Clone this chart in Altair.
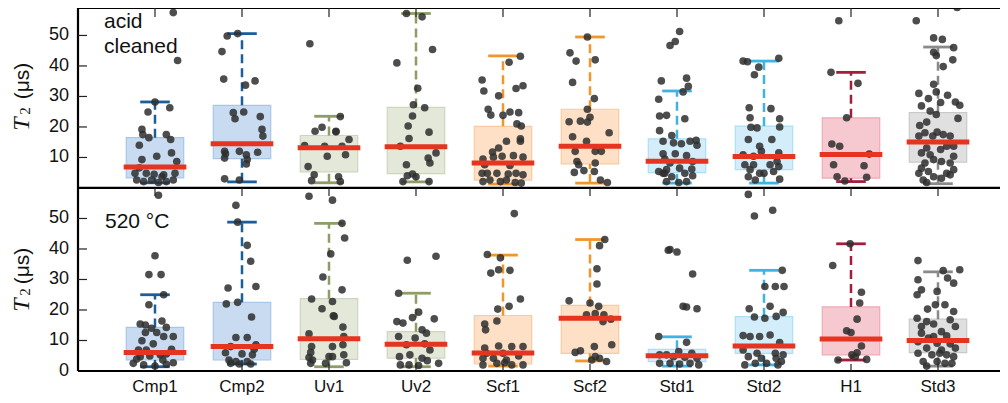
import altair as alt
import pandas as pd

CATS = ["Cmp1", "Cmp2", "Uv1", "Uv2", "Scf1", "Scf2", "Std1", "Std2", "H1", "Std3"]

WHISKER_COLORS = ["#1b5e9c", "#1b5e9c", "#8d9d66", "#8d9d66", "#f1962a", "#f1962a",
                  "#3fb3e4", "#3fb3e4", "#a31e3d", "#8a8a8a"]
FILL_COLORS = ["#c8dbf0", "#c8dbf0", "#e4e8d8", "#e4e8d8", "#fde0c6", "#fde0c6",
               "#d3eefa", "#d3eefa", "#f6c9d1", "#e0e0e0"]
EDGE_COLORS = ["#a9c6e7", "#a9c6e7", "#cdd5bf", "#cdd5bf", "#fbcaa0", "#fbcaa0",
               "#abdff5", "#abdff5", "#eeaab6", "#c9c9c9"]

# ---- box statistics (T2 in microseconds) ----
TOP_Q1 = [3.3, 9.6, 5.3, 4.7, 2.6, 7.9, 5.0, 6.0, 3.2, 8.5]
TOP_MED = [6.9, 14.5, 13.2, 13.5, 8.2, 13.7, 8.8, 10.3, 11.0, 15.1]
TOP_Q3 = [16.5, 27.1, 17.2, 26.4, 20.2, 25.8, 16.1, 20.3, 23.0, 24.7]
TOP_WLO = [1.7, 2.0, 1.7, 2.0, 1.3, 1.6, 1.6, 1.6, 2.1, 1.4]
TOP_WHI = [28.2, 50.6, 23.5, 57.2, 43.3, 49.5, 31.8, 41.6, 37.9, 46.2]

BOT_Q1 = [3.6, 3.6, 3.8, 4.2, 2.3, 5.8, 3.1, 5.8, 5.3, 6.0]
BOT_MED = [6.1, 8.0, 10.6, 8.8, 5.9, 17.3, 5.0, 8.2, 10.5, 10.0]
BOT_Q3 = [14.3, 22.5, 23.7, 12.9, 18.2, 21.5, 7.1, 17.8, 21.0, 17.0]
BOT_WLO = [1.4, 2.3, 1.4, 1.4, 1.6, 3.3, 1.6, 2.0, 3.6, 1.6]
BOT_WHI = [25.0, 48.8, 48.4, 25.5, 38.0, 43.1, 11.2, 33.0, 41.7, 32.5]

# ---- individual measurements: T2 values and horizontal jitter (in category units) ----
TOP_T2 = {
    "Cmp1": [57.5, 41.8, 28.2, 24.9, 26.3, 19.2, 17.5, 16.5, 17.5, 15.9, 14.0, 10.4, 11.5, 9.3,
             8.7, 4.8, 4.8, 4.5, 4.3, 4.8, 2.6, 2.1, 2.6, 1.8, 2.1, 2.6, 6.6, 3.7],
    "Cmp2": [49.8, 50.6, 44.7, 35.7, 33.7, 35.1, 24.7, 24.9, 22.7, 23.4, 19.2, 17.0, 12.0, 11.2,
             12.0, 10.9, 11.7, 9.8, 9.3, 7.9, 3.0, 2.6],
    "Uv1": [47.3, 19.9, 18.6, 18.6, 23.4, 18.4, 15.9, 13.9, 10.4, 10.9, 13.7, 7.0, 4.3, 2.4,
            3.7, 2.1, 13.7],
    "Uv2": [57.2, 56.1, 45.4, 41.0, 32.7, 27.3, 26.3, 23.6, 20.3, 18.3, 16.2, 13.7, 11.5, 9.8,
            8.2, 7.6, 4.6, 4.0, 3.7, 2.1, 2.1],
    "Scf1": [43.2, 41.2, 35.4, 31.8, 30.2, 32.6, 33.5, 25.8, 23.9, 23.8, 24.9, 24.7, 21.0, 20.3,
             16.1, 15.3, 15.3, 13.1, 11.8, 10.6, 10.1, 9.5, 10.1, 10.4, 4.8, 4.8, 4.8, 4.6, 4.8,
             4.3, 2.1, 2.6, 2.1, 2.6, 1.8, 1.6, 7.6, 7.4],
    "Scf2": [49.5, 44.3, 41.6, 42.0, 34.6, 29.3, 25.8, 23.2, 21.7, 21.9, 21.6, 18.1, 16.8, 15.3,
             12.0, 12.0, 12.0, 8.7, 8.2, 7.6, 5.1, 5.7, 5.4, 2.6, 1.8],
    "Std1": [51.3, 48.0, 46.7, 35.1, 36.0, 33.3, 31.5, 29.1, 23.6, 23.8, 22.7, 18.8, 17.2, 15.3,
             14.8, 14.5, 15.3, 14.0, 15.6, 11.2, 11.2, 10.6, 9.5, 8.2, 8.7, 6.0, 6.5, 6.2, 4.8,
             4.8, 3.7, 4.0, 2.1, 2.1, 1.8, 5.4, 4.8],
    "Std2": [42.5, 41.6, 41.4, 39.6, 37.1, 26.3, 26.0, 23.0, 22.7, 19.9, 19.7, 20.0, 15.9, 15.9,
             13.7, 12.0, 11.5, 10.9, 10.4, 8.7, 7.6, 7.6, 7.6, 7.0, 6.0, 4.8, 5.4, 3.7, 2.6, 2.9,
             4.8],
    "H1": [54.8, 37.9, 34.3, 23.0, 14.4, 13.7, 11.1, 7.6, 7.3, 3.7, 3.5, 2.3],
    "Std3": [59.2, 54.8, 49.2, 48.7, 46.0, 44.5, 43.4, 42.0, 39.8, 34.0, 31.0, 31.5, 30.4, 29.3,
             28.0, 28.2, 27.1, 26.9, 25.2, 24.1, 22.8, 20.5, 21.6, 18.1, 18.3, 17.5, 17.0, 17.0,
             17.0, 13.7, 13.7, 13.1, 12.6, 11.5, 10.9, 10.4, 9.3, 8.7, 8.2, 8.2, 4.8, 5.4, 4.8,
             6.0, 2.6, 3.7, 3.2, 4.3, 1.8, 6.5],
}
TOP_DX = {
    "Cmp1": [0.21, 0.26, 0.0, -0.08, 0.17, -0.15, -0.14, -0.07, 0.13, 0.18, -0.18, 0.02, 0.19,
             -0.15, 0.25, -0.23, -0.10, -0.01, 0.10, 0.23, -0.21, -0.13, -0.04, 0.04, 0.13, 0.21,
             -0.18, 0.08],
    "Cmp2": [-0.17, -0.05, -0.23, -0.21, 0.04, 0.15, -0.10, 0.02, -0.08, 0.21, 0.23, 0.24, -0.20,
             -0.19, -0.03, 0.05, 0.18, -0.20, 0.06, 0.05, -0.20, -0.03],
    "Uv1": [-0.22, -0.08, -0.16, 0.08, 0.13, 0.08, 0.23, -0.28, -0.02, 0.19, 0.15, -0.24, -0.17,
            -0.20, 0.11, 0.13, -0.05],
    "Uv2": [-0.11, 0.07, 0.19, -0.22, 0.02, -0.03, 0.10, -0.04, -0.09, 0.15, -0.08, -0.18, 0.23,
            0.14, 0.16, -0.11, -0.04, -0.10, 0.0, -0.15, 0.15],
    "Scf1": [0.20, 0.07, -0.24, -0.22, -0.05, 0.15, 0.23, -0.17, -0.14, 0.0, 0.08, 0.18, 0.16,
             0.21, 0.20, 0.20, 0.04, -0.05, -0.12, 0.12, 0.23, -0.23, -0.11, -0.01, -0.24, -0.18,
             -0.07, 0.06, 0.15, 0.23, -0.23, -0.15, -0.03, 0.04, 0.14, 0.21, -0.21, 0.08],
    "Scf2": [-0.03, -0.23, -0.16, 0.06, -0.20, 0.05, -0.03, 0.0, -0.24, -0.11, -0.03, 0.22, -0.20,
             -0.04, -0.17, 0.06, 0.13, -0.15, 0.06, -0.13, -0.18, -0.07, 0.05, 0.12, 0.20],
    "Std1": [0.03, -0.02, -0.08, -0.18, 0.11, 0.13, 0.07, -0.21, -0.20, -0.12, 0.09, -0.20, -0.06,
             -0.16, -0.04, 0.05, 0.15, 0.23, 0.22, -0.16, -0.02, 0.11, -0.14, -0.08, 0.18, -0.12,
             0.03, 0.17, -0.16, 0.09, -0.06, 0.18, -0.12, 0.11, 0.02, -0.21, -0.14],
    "Std2": [0.17, -0.24, -0.19, -0.06, -0.11, -0.17, 0.08, -0.16, 0.18, -0.15, -0.08, 0.18, 0.09,
             -0.18, -0.05, -0.03, 0.17, -0.24, -0.12, 0.15, -0.22, -0.12, 0.07, 0.17, -0.16,
             -0.05, 0.11, -0.18, -0.10, 0.18, 0.0],
    "H1": [-0.14, -0.23, 0.08, -0.05, -0.22, -0.13, 0.21, -0.20, 0.15, -0.16, 0.18, -0.07],
    "Std3": [0.22, -0.25, -0.05, 0.05, 0.18, -0.05, -0.02, 0.17, 0.06, -0.05, -0.22, -0.02, 0.11,
             -0.11, 0.03, 0.20, 0.25, -0.19, -0.09, -0.02, 0.23, -0.21, -0.13, -0.15, -0.01, 0.06,
             0.14, -0.06, -0.22, 0.18, 0.10, -0.13, 0.03, -0.19, -0.09, 0.18, -0.05, 0.04, 0.14,
             -0.15, -0.22, -0.11, 0.10, 0.18, -0.17, -0.05, 0.04, 0.14, -0.13, -0.19],
}

BOT_T2 = {
    "Cmp1": [57.6, 37.8, 31.6, 31.6, 25.0, 21.7, 16.4, 15.4, 15.1, 14.0, 14.3, 12.6, 12.6, 11.3,
             11.3, 9.9, 8.9, 7.1, 6.9, 6.9, 5.6, 4.7, 4.9, 5.3, 2.7, 2.5, 2.0, 1.6, 2.2, 3.9, 3.6],
    "Cmp2": [54.3, 48.8, 41.2, 36.0, 27.2, 27.7, 22.0, 22.5, 17.7, 11.0, 11.0, 8.6, 7.1, 8.0, 6.0,
             5.6, 5.3, 3.6, 3.1, 3.1, 2.5, 2.3, 2.3],
    "Uv1": [57.3, 56.0, 48.4, 43.6, 38.4, 30.8, 23.6, 22.8, 26.6, 20.4, 17.9, 18.1, 12.2, 14.4,
            11.3, 8.0, 8.6, 6.1, 8.0, 4.7, 4.4, 5.3, 2.5, 2.5, 2.7, 4.7, 3.6],
    "Uv2": [36.3, 37.6, 25.5, 19.3, 17.1, 17.5, 16.2, 15.7, 13.5, 12.4, 11.3, 10.8, 8.6, 8.9, 6.9,
            4.7, 5.3, 4.2, 3.4, 2.0, 2.0, 2.5, 1.8],
    "Scf1": [51.6, 38.2, 37.1, 32.1, 33.2, 33.0, 23.6, 21.2, 20.3, 16.4, 15.4, 13.5, 7.5, 8.2, 8.0,
             8.0, 5.8, 5.8, 4.9, 4.2, 4.2, 3.6, 2.0, 2.5, 2.0, 2.0, 2.7],
    "Scf2": [43.1, 41.1, 33.5, 28.5, 23.0, 22.3, 21.2, 18.4, 18.8, 18.4, 17.0, 16.2, 8.6, 8.0, 6.6,
             6.1, 4.7, 3.6, 3.1, 4.2],
    "Std1": [39.6, 39.8, 39.0, 31.8, 21.2, 21.0, 20.4, 11.3, 9.4, 6.4, 5.8, 5.3, 4.7, 4.5, 4.2,
             5.3, 2.5, 2.5, 2.3, 2.5, 2.0],
    "Std2": [57.9, 50.8, 52.7, 33.0, 27.7, 27.7, 27.7, 20.4, 21.2, 19.2, 17.7, 17.3, 17.9, 11.6,
             11.3, 11.3, 11.8, 9.3, 6.9, 5.8, 5.8, 5.3, 4.7, 4.2, 4.2, 2.0, 2.5, 2.5, 2.0, 3.1],
    "H1": [41.7, 34.6, 25.8, 22.3, 17.0, 13.2, 12.6, 8.2, 5.3, 6.0, 3.6, 3.8, 4.7],
    "Std3": [36.2, 32.9, 33.2, 30.5, 28.8, 29.9, 26.6, 25.0, 26.1, 20.3, 21.7, 21.7, 19.5, 17.3,
             16.2, 15.4, 16.8, 14.6, 12.9, 12.4, 11.5, 10.8, 9.6, 9.1, 8.9, 7.5, 7.5, 6.9, 5.8,
             5.3, 5.3, 4.7, 3.1, 3.1, 2.5, 2.5, 1.6, 5.8, 11.3, 14.6],
}
BOT_DX = {
    "Cmp1": [0.04, 0.0, -0.07, 0.07, 0.10, -0.07, 0.08, -0.17, -0.11, -0.04, 0.13, -0.11, 0.02,
             0.21, 0.10, -0.15, -0.02, 0.19, -0.19, -0.10, 0.13, -0.17, -0.06, 0.06, 0.21, -0.25,
             -0.13, 0.0, 0.13, -0.21, 0.09],
    "Cmp2": [-0.07, -0.05, 0.06, 0.10, -0.16, 0.16, -0.18, -0.05, 0.11, -0.07, 0.06, 0.16, 0.14,
             -0.13, -0.19, 0.0, 0.12, -0.15, -0.07, 0.06, -0.13, 0.10, -0.03],
    "Uv1": [-0.23, 0.04, 0.15, 0.18, 0.02, -0.07, -0.20, 0.04, 0.15, -0.08, 0.06, 0.05, -0.23,
            0.16, 0.17, -0.20, 0.16, -0.21, 0.04, 0.0, -0.23, 0.17, -0.21, -0.04, 0.20, 0.04,
            -0.19],
    "Uv2": [-0.10, 0.23, -0.20, 0.03, 0.21, -0.04, -0.22, -0.15, 0.07, 0.12, -0.20, -0.01, -0.11,
            0.10, 0.16, -0.19, -0.07, 0.07, 0.13, -0.18, -0.08, 0.26, 0.03],
    "Scf1": [0.13, -0.18, -0.03, -0.14, -0.05, 0.08, 0.20, 0.07, -0.06, -0.07, -0.21, -0.20, -0.21,
             -0.05, 0.10, 0.23, -0.19, 0.0, 0.18, -0.23, -0.11, 0.04, -0.23, -0.07, 0.10, 0.23,
             0.02],
    "Scf2": [0.17, 0.11, 0.08, 0.08, -0.24, 0.0, 0.10, -0.04, 0.06, 0.16, 0.24, 0.15, 0.25, 0.05,
             -0.11, -0.17, 0.06, 0.02, 0.19, 0.11],
    "Std1": [-0.10, -0.08, 0.0, 0.18, 0.07, 0.11, 0.23, -0.21, 0.11, 0.02, 0.17, -0.12, -0.04,
             0.09, 0.23, -0.20, -0.20, -0.08, 0.03, 0.15, 0.25],
    "Std2": [-0.18, -0.11, 0.10, 0.21, 0.01, 0.13, 0.23, -0.17, 0.07, 0.22, -0.11, 0.01, 0.14,
             -0.24, -0.16, -0.05, 0.07, 0.18, -0.24, -0.08, 0.13, 0.22, -0.18, -0.03, 0.14, -0.22,
             -0.10, 0.03, 0.16, 0.20],
    "H1": [-0.01, -0.21, 0.12, 0.10, 0.07, -0.05, 0.0, 0.12, 0.01, 0.07, -0.15, 0.18, 0.05],
    "Std3": [-0.23, 0.06, 0.25, 0.11, 0.18, -0.23, -0.19, -0.24, -0.01, -0.12, -0.03, 0.08, 0.18,
             -0.24, -0.13, -0.05, 0.14, 0.20, 0.04, -0.19, 0.10, -0.11, -0.23, -0.01, 0.14, 0.20,
             -0.13, 0.04, -0.23, -0.07, 0.10, 0.18, -0.17, -0.01, 0.08, 0.16, -0.13, 0.02, -0.05,
             -0.19],
}

Y_TICKS_BOTTOM = [0, 10, 20, 30, 40, 50]
Y_TICKS_TOP = [10, 20, 30, 40, 50]

# ---- layout constants ----
W, H = 922, 363
PANEL = 60.0          # top panel is shifted up by this many units
Y_MAX = 119.0
PX_PER_CAT = 87.0
X_MIN = 0.115
X_MAX = X_MIN + W / PX_PER_CAT
BOX_HW, MED_HW, CAP_HW = 0.33, 0.36, 0.17
FONT = "Liberation Sans"


def box_frame(q1, med, q3, wlo, whi, shift):
    rows = []
    for i, c in enumerate(CATS):
        xc = i + 1
        rows.append(dict(cat=c, xc=xc, bl=xc - BOX_HW, br=xc + BOX_HW,
                         ml=xc - MED_HW, mr=xc + MED_HW, cl=xc - CAP_HW, cr=xc + CAP_HW,
                         q1=q1[i] + shift, med=med[i] + shift, q3=q3[i] + shift,
                         wlo=wlo[i] + shift, whi=whi[i] + shift,
                         wcol=WHISKER_COLORS[i], fcol=FILL_COLORS[i], ecol=EDGE_COLORS[i]))
    return rows


def point_frame(vals, dxs, shift):
    rows = []
    for i, c in enumerate(CATS):
        for v, d in zip(vals[c], dxs[c]):
            rows.append(dict(cat=c, px=i + 1 + d, py=v + shift))
    return rows


boxes = pd.DataFrame(box_frame(TOP_Q1, TOP_MED, TOP_Q3, TOP_WLO, TOP_WHI, PANEL)
                     + box_frame(BOT_Q1, BOT_MED, BOT_Q3, BOT_WLO, BOT_WHI, 0.0))
points = pd.DataFrame(point_frame(TOP_T2, TOP_DX, PANEL) + point_frame(BOT_T2, BOT_DX, 0.0))
cat_ticks = pd.DataFrame({"xc": list(range(1, len(CATS) + 1)), "name": CATS})
y_labels = pd.DataFrame({
    "yv": Y_TICKS_BOTTOM + [v + PANEL for v in Y_TICKS_TOP],
    "txt": [str(v) for v in Y_TICKS_BOTTOM] + [str(v) for v in Y_TICKS_TOP],
})
y_ticks = y_labels[y_labels["yv"] > 0]
hlines = pd.DataFrame({"yv": [0.0, PANEL, Y_MAX]})

xs = alt.Scale(domain=[X_MIN, X_MAX], nice=False, zero=False)
ys = alt.Scale(domain=[0, Y_MAX], nice=False, zero=False)


def X(field):
    return alt.X(field, type="quantitative", scale=xs, axis=None)


def Y(field):
    return alt.Y(field, type="quantitative", scale=ys, axis=None)


base_box = alt.Chart(boxes)

box_rect = base_box.mark_rect(strokeWidth=1.2).encode(
    x=X("bl"), x2="br", y=Y("q1"), y2="q3",
    fill=alt.Fill("fcol:N", scale=None), stroke=alt.Stroke("ecol:N", scale=None))

wh_up = base_box.mark_rule(strokeWidth=2.5, strokeDash=[9, 5]).encode(
    x=X("xc"), y=Y("q3"), y2="whi", color=alt.Color("wcol:N", scale=None))
wh_dn = base_box.mark_rule(strokeWidth=2.5, strokeDash=[9, 5]).encode(
    x=X("xc"), y=Y("wlo"), y2="q1", color=alt.Color("wcol:N", scale=None))
cap_hi = base_box.mark_rule(strokeWidth=2.8).encode(
    x=X("cl"), x2="cr", y=Y("whi"), color=alt.Color("wcol:N", scale=None))
cap_lo = base_box.mark_rule(strokeWidth=2.8).encode(
    x=X("cl"), x2="cr", y=Y("wlo"), color=alt.Color("wcol:N", scale=None))

pts = alt.Chart(points).mark_circle(size=58, color="#2e2e2e", opacity=0.85, clip=True).encode(
    x=X("px"), y=Y("py"))

medians = base_box.mark_rule(strokeWidth=5, color="#e5341f").encode(
    x=X("ml"), x2="mr", y=Y("med"))

# frame: top, separator and bottom lines, left spine
frame_h = alt.Chart(hlines).mark_rule(color="black", strokeWidth=2.2).encode(
    y=Y("yv"), x=alt.value(0), x2=alt.value(W))
frame_l = alt.Chart(hlines.head(1)).mark_rule(color="black", strokeWidth=2.2).encode(
    x=alt.value(0), y=alt.value(0), y2=alt.value(H))

yb = H * (1 - PANEL / Y_MAX)
tick_style = dict(color="#222", strokeWidth=1.2)
tk_bottom = alt.Chart(cat_ticks).mark_rule(**tick_style).encode(
    x=X("xc"), y=alt.value(H), y2=alt.value(H - 7))
tk_mid = alt.Chart(cat_ticks).mark_rule(**tick_style).encode(
    x=X("xc"), y=alt.value(yb), y2=alt.value(yb + 8))
tk_top = alt.Chart(cat_ticks).mark_rule(**tick_style).encode(
    x=X("xc"), y=alt.value(0), y2=alt.value(9))
tk_left = alt.Chart(y_ticks).mark_rule(**tick_style).encode(
    y=Y("yv"), x=alt.value(0), x2=alt.value(9))

# tick labels
x_lab = alt.Chart(cat_ticks).mark_text(font=FONT, fontSize=17, color="#111", align="center",
                                       baseline="top").encode(
    x=X("xc"), y=alt.value(H + 8), text="name:N")
y_lab = alt.Chart(y_labels).mark_text(font=FONT, fontSize=18, color="#111", align="right",
                                      baseline="middle").encode(
    y=Y("yv"), x=alt.value(-9), text="txt:N")


def label(text, x, y, size=21, font=FONT, style="normal", angle=0, align="left",
          baseline="alphabetic", line_height=None):
    kw = dict(font=font, fontSize=size, fontStyle=style, color="#111", align=align,
              baseline=baseline, angle=angle)
    if line_height:
        kw["lineHeight"] = line_height
    return alt.Chart(pd.DataFrame({"t": [0]})).mark_text(text=text, **kw).encode(
        x=alt.value(x), y=alt.value(y))


texts = [
    label(["acid", "cleaned"], 26, 20, line_height=25),
    label("520 °C", 27, 220),
]
for mu_y, t_y, s_y in ((73, 116, 103), (258, 297, 284)):
    texts += [
        label("(μs)", -55, mu_y, angle=270, align="center", baseline="middle"),
        label("T", -56.5, t_y, font="Liberation Serif", style="italic",
              size=24, angle=270, align="center", baseline="middle"),
        label("2", -53, s_y, size=15, font="Liberation Serif",
              angle=270, align="center", baseline="middle"),
    ]

chart = alt.layer(box_rect, wh_up, wh_dn, cap_hi, cap_lo, pts, medians, frame_h, frame_l,
                  tk_bottom, tk_mid, tk_top, tk_left, x_lab, y_lab, *texts).properties(
    width=W, height=H,
    autosize=alt.AutoSizeParams(type="none"),
    padding={"left": 70, "top": 0, "right": 0, "bottom": 28},
).configure_view(stroke=None)

chart.save("out.html", embed_options={"renderer": "svg", "actions": False})
